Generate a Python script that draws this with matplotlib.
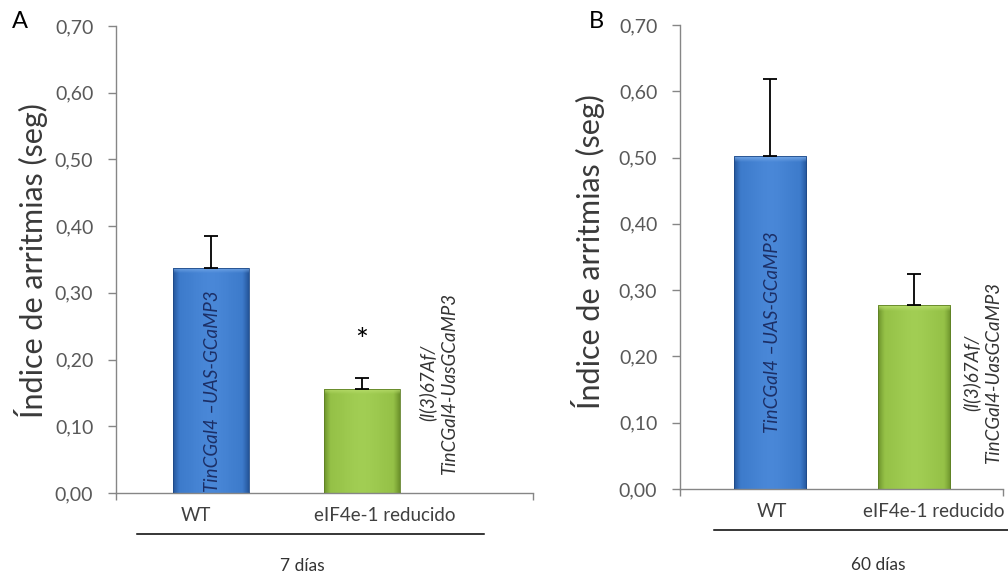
import numpy as np
import matplotlib
matplotlib.use("Agg")
import matplotlib.pyplot as plt
from matplotlib.lines import Line2D
from matplotlib.ticker import FuncFormatter

# ---- data -------------------------------------------------------------
categories = ["WT", "eIF4e-1 reducido"]
values_7d = [0.338, 0.156]
errors_7d = [0.047, 0.016]
values_60d = [0.502, 0.277]
errors_60d = [0.117, 0.047]
group_labels = ["7 días", "60 días"]
bar_text = "TinCGal4 \u2013UAS-GCaMP3"
side_text = "(l(3)67Af/\nTinCGal4-UasGCaMP3"
y_label = "Índice de arritmias (seg)"
y_ticks = [0.0, 0.1, 0.2, 0.3, 0.4, 0.5, 0.6, 0.7]

# ---- style ------------------------------------------------------------
plt.rcParams["font.family"] = ["Lato", "DejaVu Sans"]
W, H = 1008, 576
fig = plt.figure(figsize=(W / 100, H / 100), dpi=100)


def fx(px):
    return px / W


def fy(py):
    return 1 - py / H


AXIS_GREY = "#868686"
TICK_GREY = "#595959"
BLUE = dict(base=np.array([58, 120, 200]) / 255, edge=np.array([34, 82, 150]) / 255,
            top=np.array([120, 170, 232]) / 255)
GREEN = dict(base=np.array([146, 190, 68]) / 255, edge=np.array([104, 142, 40]) / 255,
             top=np.array([186, 222, 110]) / 255)


def shade_bar(ax, patch, col):
    """Paint an Excel-like bevel gradient inside a bar patch."""
    x0, y0 = patch.get_x(), patch.get_y()
    w, h = patch.get_width(), patch.get_height()
    (px0, py0), (px1, py1) = ax.transData.transform([(x0, y0), (x0 + w, y0 + h)])
    nw = max(int(round(px1 - px0)), 2)
    nh = max(int(round(py1 - py0)), 2)
    cols = np.arange(nw) + 0.5
    d = np.minimum(cols, nw - cols)
    side = np.clip(1 - d / 7.0, 0, 1) ** 1.2
    mid = 0.06 * np.exp(-((cols - nw / 2) / (nw / 3)) ** 2)
    row = col["base"][None, :] * (1 - side[:, None]) + col["edge"][None, :] * side[:, None]
    row = np.clip(row + mid[:, None], 0, 1)
    img = np.repeat(row[None, :, :], nh, axis=0)
    rows = np.arange(nh) + 0.5
    topf = np.clip(1 - rows / 6.0, 0, 1)
    img = img * (1 - topf[:, None, None]) + col["top"][None, None, :] * topf[:, None, None]
    im = ax.imshow(img, extent=(x0, x0 + w, y0, y0 + h), origin="upper",
                   aspect="auto", interpolation="bilinear", zorder=2)
    im.set_clip_path(patch)
    patch.set_facecolor("none")
    patch.set_edgecolor(col["edge"] * 0.9)
    patch.set_linewidth(0.6)
    patch.set_zorder(3)


def build_panel(rect, xlim, values, errors, label_x, letter, letter_xy,
                ylabel_xy, inbar_xy, side_xy, group_line, group_label, group_xy,
                star=None):
    ax = fig.add_axes(rect)
    ax.set_xlim(*xlim)
    ax.set_ylim(0, 0.7)
    x = np.arange(len(values))
    bars = ax.bar(x, values, width=0.5, zorder=3)
    for b, c in zip(bars, [BLUE, GREEN]):
        shade_bar(ax, b, c)
    ax.set_xlim(*xlim)
    ax.set_ylim(0, 0.7)
    ax.errorbar(x, values, yerr=[np.zeros(len(errors)), errors], fmt="none",
                ecolor="black", elinewidth=1.3, capsize=4.7, capthick=1.3, zorder=4)

    for s in ["top", "right"]:
        ax.spines[s].set_visible(False)
    for s in ["left", "bottom"]:
        ax.spines[s].set_color(AXIS_GREY)
        ax.spines[s].set_linewidth(1.0)
    ax.set_yticks(y_ticks)
    ax.yaxis.set_major_formatter(FuncFormatter(lambda v, p: f"{v:.2f}".replace(".", ",")))
    ax.tick_params(axis="y", direction="out", length=5.8, width=1.0, color=AXIS_GREY,
                   pad=10.5, labelsize=14, labelcolor=TICK_GREY)
    ax.set_xticks([xlim[0], xlim[1]])
    ax.set_xticklabels(["", ""])
    ax.tick_params(axis="x", direction="out", length=5, width=1.0, color=AXIS_GREY)
    ax.patch.set_alpha(0)

    for lx, name in zip(label_x, categories):
        ax.annotate(name, xy=(lx, 0), xycoords=ax.get_xaxis_transform(),
                    xytext=(0, -16.5), textcoords="offset points",
                    ha="center", va="center", fontsize=13.5, color="#404040")

    ax.text(inbar_xy[0], inbar_xy[1], bar_text, rotation=90, ha="center", va="center",
            fontsize=13.5, style="italic", color="#1c2f66", zorder=5)
    ax.text(side_xy[0], side_xy[1], side_text, rotation=90, ha="center", va="center",
            fontsize=13.5, style="italic", color="#333333", multialignment="center",
            linespacing=1.3, zorder=5)
    if star is not None:
        ax.text(star[0], star[1], "*", ha="center", va="center", fontsize=22,
                color="black", zorder=5)

    fig.text(fx(letter_xy[0]), fy(letter_xy[1]), letter, ha="center", va="center",
             fontsize=17, color="black")
    fig.text(fx(ylabel_xy[0]), fy(ylabel_xy[1]), y_label, rotation=90, ha="center",
             va="center", fontsize=22, color="#3a3a3a")
    (gx0, gx1, gy) = group_line
    fig.add_artist(Line2D([fx(gx0), fx(gx1)], [fy(gy), fy(gy)], color="black", lw=1.1))
    fig.text(fx(group_xy[0]), fy(group_xy[1]), group_label, ha="center", va="center",
             fontsize=12.5, color="#333333")
    return ax


# Panel A: 7 days
build_panel(rect=[fx(116), fy(493), (533 - 116) / W, (493 - 26) / H],
            xlim=(-0.629, 2.132), values=values_7d, errors=errors_7d,
            label_x=[-0.10, 1.15], letter="A", letter_xy=(20, 22),
            ylabel_xy=(31, 261), inbar_xy=(0.01, 0.152), side_xy=(1.503, 0.165),
            group_line=(137, 484, 534), group_label=group_labels[0],
            group_xy=(302, 566), star=(1.0, 0.228))

# Panel B: 60 days
build_panel(rect=[fx(680), fy(489), (1003 - 680) / W, (489 - 25) / H],
            xlim=(-0.625, 1.618), values=values_60d, errors=errors_60d,
            label_x=[0.014, 1.139], letter="B", letter_xy=(596, 22),
            ylabel_xy=(588, 252), inbar_xy=(0.014, 0.237), side_xy=(1.472, 0.176),
            group_line=(714, 1008, 530), group_label=group_labels[1],
            group_xy=(878, 565))

fig.savefig("out.png", dpi=100)
